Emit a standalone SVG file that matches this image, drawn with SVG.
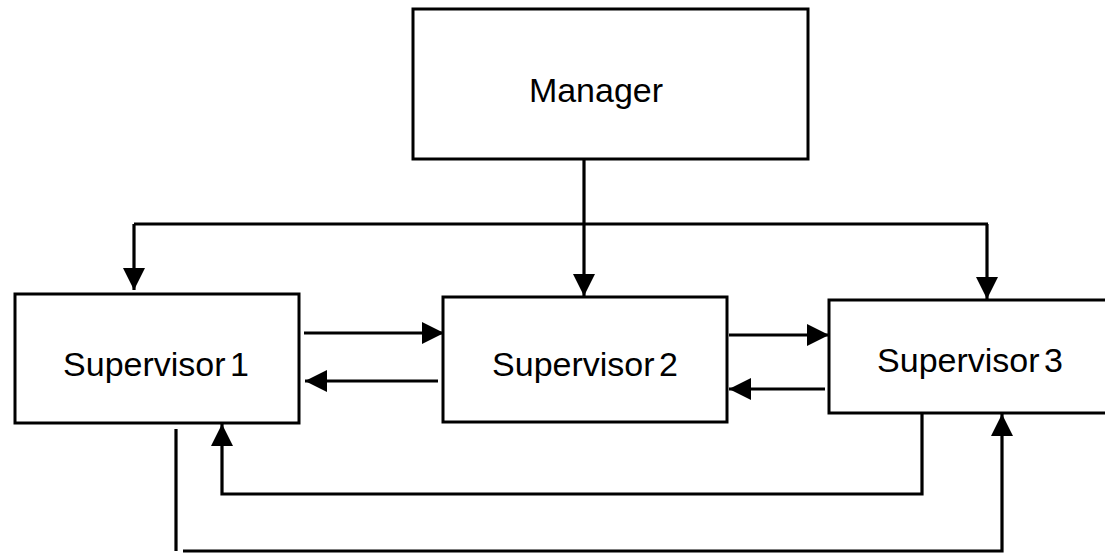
<svg xmlns="http://www.w3.org/2000/svg" width="1105" height="554" viewBox="0 0 1105 554">
  <style>
    .box { fill: #ffffff; stroke: #000000; stroke-width: 3; }
    .label { font-family: "Liberation Sans", Arial, sans-serif; font-size: 34px; fill: #000000; text-anchor: middle; word-spacing: -5px; }
    .wire { fill: none; stroke: #000000; stroke-width: 3.2; }
  </style>
  <defs>
    <marker id="arrow" viewBox="0 0 22 22" refX="22" refY="11" markerWidth="22" markerHeight="22" markerUnits="userSpaceOnUse" orient="auto">
      <path d="M0,0 L22,11 L0,22 Z" fill="#000000"/>
    </marker>
  </defs>

  <rect width="1105" height="554" fill="#ffffff"/>

  <g id="manager">
    <rect class="box" x="413" y="9" width="395" height="150"/>
    <text class="label" x="596" y="102">Manager</text>
  </g>

  <g id="supervisor1">
    <rect class="box" x="15" y="294" width="284" height="129"/>
    <text class="label" x="156" y="376">Supervisor 1</text>
  </g>

  <g id="supervisor2">
    <rect class="box" x="443" y="297" width="284" height="125"/>
    <text class="label" x="585" y="376">Supervisor 2</text>
  </g>

  <g id="supervisor3">
    <rect class="box" x="829" y="300" width="290" height="113"/>
    <text class="label" x="970" y="372">Supervisor 3</text>
  </g>

  <g id="connectors">
    <!-- manager down to supervisor 2 -->
    <line class="wire" x1="584" y1="159" x2="584" y2="296" marker-end="url(#arrow)"/>
    <!-- distribution bus to supervisors 1 and 3 -->
    <line class="wire" x1="134" y1="224" x2="988" y2="224"/>
    <line class="wire" x1="134" y1="224" x2="134" y2="290" marker-end="url(#arrow)"/>
    <line class="wire" x1="987" y1="224" x2="987" y2="299" marker-end="url(#arrow)"/>
    <!-- supervisor 1 <-> supervisor 2 -->
    <line class="wire" x1="304" y1="333" x2="444" y2="333" marker-end="url(#arrow)"/>
    <line class="wire" x1="438" y1="381" x2="305" y2="381" marker-end="url(#arrow)"/>
    <!-- supervisor 2 <-> supervisor 3 -->
    <line class="wire" x1="729" y1="335" x2="829" y2="335" marker-end="url(#arrow)"/>
    <line class="wire" x1="825" y1="389" x2="729" y2="389" marker-end="url(#arrow)"/>
    <!-- supervisor 3 back to supervisor 1 -->
    <polyline class="wire" points="922,413 922,494 222,494 222,424" marker-end="url(#arrow)"/>
    <!-- supervisor 1 across to supervisor 3 -->
    <line class="wire" x1="176" y1="429" x2="176" y2="551"/>
    <polyline class="wire" points="183,551 1002,551 1002,414" marker-end="url(#arrow)"/>
  </g>
</svg>
